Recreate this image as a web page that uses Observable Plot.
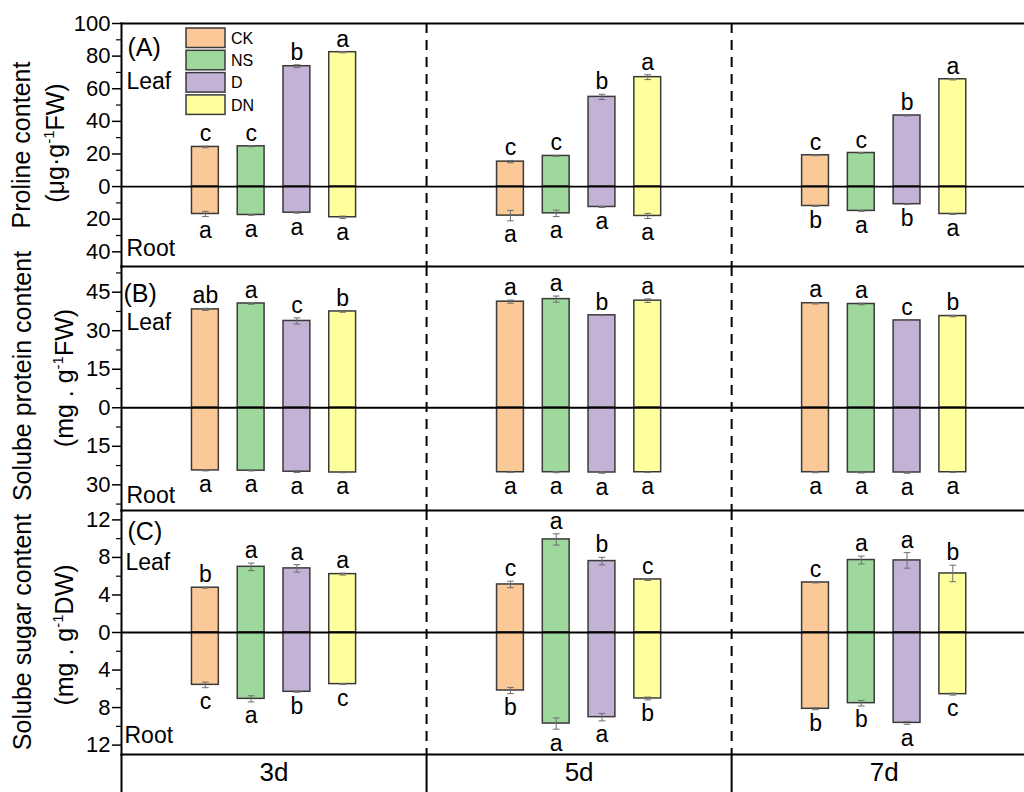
<!DOCTYPE html>
<html><head><meta charset="utf-8">
<script src="https://cdn.jsdelivr.net/npm/d3@7"></script>
<script src="https://cdn.jsdelivr.net/npm/@observablehq/plot@0.6"></script>
<style>
body{margin:0;background:#fff;}
#chart{position:relative;width:1024px;height:792px;overflow:hidden;background:#fff;}
#chart svg text{font-family:"Liberation Sans",Arial,sans-serif;}
#chart svg .xlab text{font-family:"Liberation Sans Narrow","Liberation Sans",Arial,sans-serif;}
</style></head><body><div id="chart"></div>
<script>
const groups = ["3d","5d","7d"];
const treatments = ["CK","NS","D","DN"];
const treatmentColors = ["#FBC898","#9FD89C","#C4B2D6","#FFFF9E"];

// order in every series: 3d CK,NS,D,DN | 5d CK,NS,D,DN | 7d CK,NS,D,DN
// (A) Proline content (µg·g-1 FW)
const prolineLeaf       = [24.3,24.7,73.8,82.4, 15.3,18.8,55.0,67.1, 19.2,20.6,43.6,65.8];
const prolineLeafErr    = [0.5,0.3,0.9,0.4, 0.7,0.3,1.6,1.5, 0.3,0.2,0.3,0.4];
const prolineLeafLetter = ["c","c","b","a", "c","c","b","a", "c","c","b","a"];
const prolineRoot       = [16.8,17.4,16.0,18.8, 17.8,16.4,12.5,18.0, 11.9,14.9,10.8,16.8];
const prolineRootErr    = [1.6,0.2,0.3,0.7, 3.2,2.0,0.3,1.6, 0.3,0.3,0.2,0.3];
const prolineRootLetter = ["a","a","a","a", "a","a","a","a", "b","a","b","a"];

// (B) Solube protein content (mg·g-1 FW)
const proteinLeaf       = [38.3,40.6,33.8,37.5, 41.3,42.3,36.0,41.7, 40.7,40.4,34.0,35.7];
const proteinLeafErr    = [0.4,0.3,1.2,0.3, 0.6,1.2,0.1,0.7, 0.3,0.3,0.1,0.3];
const proteinLeafLetter = ["ab","a","c","b", "a","a","b","a", "a","a","c","b"];
const proteinRoot       = [24.4,24.5,24.9,25.2, 25.1,25.1,25.2,25.1, 25.1,25.2,25.2,25.1];
const proteinRootErr    = [0.2,0.1,0.3,0.1, 0.1,0.2,0.3,0.1, 0.2,0.2,0.3,0.1];
const proteinRootLetter = ["a","a","a","a", "a","a","a","a", "a","a","a","a"];

// (C) Solube sugar content (mg·g-1 DW)
const sugarLeaf       = [4.77,7.0,6.83,6.22, 5.12,9.92,7.61,5.65, 5.33,7.72,7.68,6.29];
const sugarLeafErr    = [0.05,0.4,0.4,0.1, 0.35,0.6,0.4,0.1, 0.05,0.42,0.83,0.88];
const sugarLeafLetter = ["b","a","a","a", "c","a","b","c", "c","a","a","b"];
const sugarRoot       = [5.58,7.07,6.32,5.50, 6.18,9.70,9.02,7.03, 8.13,7.53,9.63,6.57];
const sugarRootErr    = [0.3,0.33,0.05,0.05, 0.33,0.6,0.4,0.15, 0.1,0.3,0.15,0.1];
const sugarRootLetter = ["c","a","b","c", "b","a","a","b", "b","b","a","c"];

const FONT = "Liberation Sans, Arial, sans-serif";
const spacing = 0.15, halfBar = 0.044, capHalf = 0.011;

function buildRows(leaf, leafErr, leafLetter, root, rootErr, rootLetter) {
  const rows = [];
  groups.forEach((g, gi) => treatments.forEach((t, ti) => {
    const i = gi * treatments.length + ti;
    rows.push({group: g, treatment: t, x: gi + (ti - 1.5) * spacing,
      leaf: leaf[i], leafErr: leafErr[i], leafLetter: leafLetter[i],
      root: -root[i], rootErr: rootErr[i], rootLetter: rootLetter[i]});
  }));
  return rows;
}
function buildErr(rows) {
  const segs = [];
  rows.forEach(r => {
    for (const [v, e] of [[r.leaf, r.leafErr], [r.root, r.rootErr]]) {
      segs.push({x1: r.x, x2: r.x, y1: v - e, y2: v + e});
      segs.push({x1: r.x - capHalf, x2: r.x + capHalf, y1: v - e, y2: v - e});
      segs.push({x1: r.x - capHalf, x2: r.x + capHalf, y1: v + e, y2: v + e});
    }
  });
  return segs;
}

function panel(o) {
  const rows = buildRows(o.leaf, o.leafErr, o.leafLetter, o.root, o.rootErr, o.rootLetter);
  const errs = buildErr(rows);
  const marks = [
    Plot.rect(rows, {x1: d => d.x - halfBar, x2: d => d.x + halfBar, y1: 0, y2: "leaf", fill: "treatment", stroke: "#3a3a3a", strokeWidth: 1.5}),
    Plot.rect(rows, {x1: d => d.x - halfBar, x2: d => d.x + halfBar, y1: 0, y2: "root", fill: "treatment", stroke: "#3a3a3a", strokeWidth: 1.5}),
    Plot.ruleY([0], {stroke: "#000", strokeWidth: 1.8}),
    Plot.link(errs, {x1: "x1", x2: "x2", y1: "y1", y2: "y2", stroke: "#6e6e6e", strokeWidth: 1}),
    Plot.text(rows, {x: "x", y: d => d.leaf + d.leafErr, text: "leafLetter", lineAnchor: "bottom", dy: -5, fontSize: 23, fill: "#000"}),
    Plot.text(rows, {x: "x", y: d => d.root - d.rootErr, text: "rootLetter", lineAnchor: "top", dy: 5, fontSize: 23, fill: "#000"}),
    Plot.ruleX([0.5, 1.5], {stroke: "#000", strokeWidth: 2, strokeDasharray: "10,7"}),
    Plot.frame({anchor: "top", stroke: "#000", strokeWidth: 2}),
    Plot.frame({anchor: "left", stroke: "#000", strokeWidth: 2}),
    Plot.axisY(o.major, {tickSize: 9, tickPadding: 2, fontSize: 22, tickFormat: d => Math.abs(d), label: null, strokeWidth: 1.5, fill: "#000"}),
    Plot.axisY(o.minor, {tickSize: 5, tickFormat: () => "", label: null, strokeWidth: 1.2}),
    Plot.text([o.tag], {frameAnchor: "top-left", textAnchor: "start", lineAnchor: "top", text: d => d, dx: o.tagDx, dy: o.tagDy, fontSize: 25}),
    Plot.text(["Leaf"], {frameAnchor: "top-left", textAnchor: "start", lineAnchor: "top", text: d => d, dx: o.leafDx, dy: o.leafDy, fontSize: 23}),
    Plot.text(["Root"], {frameAnchor: "top-left", textAnchor: "start", lineAnchor: "top", text: d => d, dx: o.rootDx, dy: o.rootDy, fontSize: 23})
  ];
  if (o.bottom) {
    marks.push(
      Plot.frame({anchor: "bottom", stroke: "#000", strokeWidth: 2}),
      Plot.axisX([-0.5, 0.5, 1.5], {tickSize: 40, tickFormat: () => "", strokeWidth: 2, label: null}),
      Plot.axisX([0, 1, 2], {tickSize: 0, tickPadding: 8, tickFormat: i => groups[i], fontSize: 26, label: null, fill: "#000", className: "xlab"})
    );
  }
  const p = Plot.plot({
    width: 1024, height: o.height,
    marginLeft: 121, marginRight: 0, marginTop: o.marginTop, marginBottom: o.marginBottom,
    x: {type: "linear", domain: [-0.5, 2.46], axis: o.bottom ? undefined : null},
    y: {domain: o.domain, label: null},
    color: {domain: treatments, range: treatmentColors},
    style: {fontFamily: FONT, color: "#000", background: "transparent", overflow: "visible"},
    marks
  });
  p.style.position = "absolute";
  p.style.left = "0px";
  p.style.top = o.top + "px";
  return p;
}

const chart = document.getElementById("chart");

chart.appendChild(panel({
  leaf: prolineLeaf, leafErr: prolineLeafErr, leafLetter: prolineLeafLetter,
  root: prolineRoot, rootErr: prolineRootErr, rootLetter: prolineRootLetter,
  domain: [-49, 100], major: [100, 80, 60, 40, 20, 0, -20, -40], minor: [90, 70, 50, 30, 10, -10, -30],
  top: 0, height: 266, marginTop: 23, marginBottom: 0,
  tag: "(A)", tagDx: 6, tagDy: 15, leafDx: 5, leafDy: 49, rootDx: 5, rootDy: 216
}));
chart.appendChild(panel({
  leaf: proteinLeaf, leafErr: proteinLeafErr, leafLetter: proteinLeafLetter,
  root: proteinRoot, rootErr: proteinRootErr, rootLetter: proteinRootLetter,
  domain: [-40, 55], major: [45, 30, 15, 0, -15, -30], minor: [52.5, 37.5, 22.5, 7.5, -7.5, -22.5, -37.5],
  top: 266, height: 244, marginTop: 0, marginBottom: 0,
  tag: "(B)", tagDx: 2, tagDy: 18, leafDx: 5, leafDy: 47, rootDx: 5, rootDy: 220
}));
chart.appendChild(panel({
  leaf: sugarLeaf, leafErr: sugarLeafErr, leafLetter: sugarLeafLetter,
  root: sugarRoot, rootErr: sugarRootErr, rootLetter: sugarRootLetter,
  domain: [-13, 13], major: [12, 8, 4, 0, -4, -8, -12], minor: [10, 6, 2, -2, -6, -10],
  top: 510, height: 282, marginTop: 0, marginBottom: 38, bottom: true,
  tag: "(C)", tagDx: 6, tagDy: 12, leafDx: 4, leafDy: 43, rootDx: 3, rootDy: 216
}));

// overlay: y-axis titles and legend
const ov = d3.select(chart).append("svg")
  .attr("width", 1024).attr("height", 792)
  .style("position", "absolute").style("left", "0px").style("top", "0px")
  .style("pointer-events", "none").style("font-family", FONT);

function yTitle(line1, pre, sup, post, x1, y1, x2, y2) {
  ov.append("text").attr("transform", `translate(${x1},${y1}) rotate(-90)`)
    .attr("text-anchor", "middle").attr("font-size", 25).attr("fill", "#000").text(line1);
  const t = ov.append("text").attr("transform", `translate(${x2},${y2}) rotate(-90)`)
    .attr("text-anchor", "middle").attr("font-size", 25).attr("fill", "#000");
  t.append("tspan").text(pre);
  t.append("tspan").attr("dy", -10).attr("font-size", 15).text(sup);
  t.append("tspan").attr("dy", 10).text(post);
}
yTitle("Proline content", "(\u03bcg\u00b7g", "-1", "FW)", 30, 145, 64, 143);
yTitle("Solube protein content", "(mg . g", "-1", "FW)", 31, 376, 73, 378);
yTitle("Solube sugar content", "(mg . g", "-1", "DW)", 31, 632, 73, 635);

const lg = ov.append("g");
treatments.forEach((t, i) => {
  lg.append("rect").attr("x", 186).attr("y", 28 + i * 22.3).attr("width", 39).attr("height", 19.5)
    .attr("fill", treatmentColors[i]).attr("stroke", "#3a3a3a").attr("stroke-width", 1.5);
  lg.append("text").attr("x", 231).attr("y", 28 + i * 22.3 + 10).attr("dy", "0.35em")
    .attr("font-size", 16).attr("fill", "#000").text(t);
});
</script></body></html>
